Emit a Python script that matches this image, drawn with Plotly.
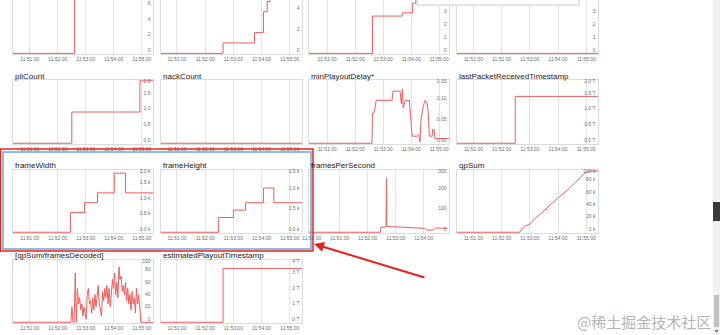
import plotly.graph_objects as go
import pandas as pd

DAY = "2024-01-01 "


def T(s):
    return pd.to_datetime(DAY + s)


# ---------------- tick labels ----------------
x_ticks = ["11:51:00", "11:52:00", "11:53:00", "11:54:00", "11:55:00"]
fps_x_ticks = ["11:50:00", "11:51:00", "11:52:00", "11:53:00", "11:54:00"]

# ---------------- data ----------------
# row 1 (titles scrolled out of view)
r1c1_t = ["11:50:24", "11:52:36", "11:55:24"]
r1c1_v = [0, 8, 8]
r1c2_t = ["11:50:26", "11:52:38", "11:53:45", "11:54:04", "11:54:12", "11:54:18", "11:55:26"]
r1c2_v = [0, 1, 2, 4, 5, 6, 6]
r1c3_t = ["11:50:21", "11:52:37", "11:53:41", "11:54:03", "11:54:10", "11:55:21"]
r1c3_v = [0, 2.9, 3.15, 3.9, 5, 5]
r1c4_t = ["11:50:25", "11:55:25"]
r1c4_v = [0, 0]

# row 2
pli_t = ["11:50:24", "11:52:30", "11:54:56", "11:55:24"]
pli_v = [0, 1, 2, 2]
nack_t = ["11:50:26", "11:55:26"]
nack_v = [0, 0]
mpd_t = ["11:50:21", "11:52:36", "11:52:37", "11:52:40", "11:52:43", "11:52:45", "11:53:19",
         "11:53:21", "11:53:36", "11:53:39", "11:53:41", "11:53:43", "11:53:47", "11:53:56",
         "11:54:02", "11:54:13", "11:54:16", "11:54:19", "11:54:21", "11:54:26", "11:54:30",
         "11:54:34", "11:54:36", "11:54:39", "11:54:45", "11:54:46", "11:54:49", "11:54:51",
         "11:55:21"]
mpd_v = [0, 0, 0.072, 0.072, 0.088, 0.103, 0.103,
         0.125, 0.125, 0.095, 0.13, 0.085, 0.103, 0.103,
         0.017, 0.017, 0.02, 0.003, 0.056, 0.09, 0.103,
         0.095, 0.08, 0.017, 0.017, 0.033, 0.033, 0.011,
         0.011]
lprt_t = ["11:50:25", "11:52:29", "11:55:25"]
lprt_v = [0, 1.5e12, 1.5e12]

# row 3
fw_t = ["11:50:24", "11:52:27", "11:52:57", "11:53:25", "11:54:01", "11:54:25", "11:55:24"]
fw_v = [0, 640, 960, 1280, 1920, 1280, 1280]
fh_t = ["11:50:26", "11:52:28", "11:53:00", "11:53:26", "11:54:04", "11:54:26", "11:55:26"]
fh_v = [0, 360, 540, 720, 1080, 720, 720]
fps_t = ["11:49:54", "11:52:27", "11:52:28", "11:52:39", "11:52:40", "11:52:41", "11:53:10",
         "11:53:40", "11:54:02", "11:54:06", "11:54:20", "11:54:26", "11:54:51"]
fps_v = [0, 0, 25, 25, 263, 28, 25, 22, 19, 11, 11, 21, 19]
qp_t = ["11:50:25", "11:52:38", "11:52:43", "11:52:50", "11:53:01", "11:53:08", "11:53:26",
        "11:53:44", "11:54:01", "11:54:19", "11:54:37", "11:54:55", "11:55:02", "11:55:05",
        "11:55:25"]
qp_v = [0, 0, 4800, 10000, 13800, 20600, 32000, 45000, 56600, 68000, 81500, 94700, 98400,
        99500, 99500]

# row 4
qpfd_start, qpfd_end = "11:52:28", "11:54:58"
qpfd_v = [0, 25, 0, 0, 80, 0, 55, 30, 40, 20, 30, 10, 25, 15, 5, 45, 55, 30, 35, 15, 40, 20,
          45, 25, 45, 60, 30, 20, 10, 50, 35, 55, 40, 60, 30, 55, 25, 45, 70, 55, 80, 45, 65,
          40, 90, 70, 75, 50, 60, 45, 65, 35, 55, 30, 45, 20, 50, 30, 40, 15, 55, 30, 45, 25, 0]
ept_t = ["11:50:26", "11:52:38", "11:55:26"]
ept_v = [0, 3.5e12, 3.5e12]

# y tick labels
r1c1_yt, r1c1_yl = [0, 2, 4, 6], ["0", "2", "4", "6"]
r1c2_yt, r1c2_yl = [0, 2, 4], ["0", "2", "4"]
r1c3_yt, r1c3_yl = [0, 1, 2, 3], ["0", "1", "2", "3"]
pli_yt, pli_yl = [0, 0.5, 1, 1.5, 2], ["0.0", "0.5", "1.0", "1.5", "2.0"]
mpd_yt, mpd_yl = [0, 0.05, 0.1, 0.15], ["0.00", "0.05", "0.10", "0.15"]
lprt_yt, lprt_yl = [0, 0.5e12, 1e12, 1.5e12, 2e12], ["0.0 T", "0.5 T", "1.0 T", "1.5 T", "2.0 T"]
fw_yt, fw_yl = [0, 500, 1000, 1500, 2000], ["0.0 k", "0.5 k", "1.0 k", "1.5 k", "2.0 k"]
fh_yt, fh_yl = [0, 500, 1000, 1500], ["0.0 k", "0.5 k", "1.0 k", "1.5 k"]
fps_yt, fps_yl = [0, 100, 200, 300], ["0", "100", "200", "300"]
qp_yt, qp_yl = [0, 20000, 40000, 60000, 80000, 100000], ["0 k", "20 k", "40 k", "60 k", "80 k", "100 k"]
qpfd_yt, qpfd_yl = [0, 20, 40, 60, 80, 100], ["0", "20", "40", "60", "80", "100"]
ept_yt, ept_yl = [0, 1e12, 2e12, 3e12, 4e12], ["0 T", "1 T", "2 T", "3 T", "4 T"]

# ---------------- layout geometry (pixels) ----------------
W, H = 720, 335
cols = [(13, 153), (161, 302), (309, 449), (457, 598)]
rows = [(0, 54), (80, 144), (170, 233), (260, 323)]
title_y = [None, 76, 165, 255.5]

qpfd_times = [T(qpfd_start) + (T(qpfd_end) - T(qpfd_start)) * i / (len(qpfd_v) - 1)
              for i in range(len(qpfd_v))]

charts = [
    # row, col, title, times, values, shape, xrange, yrange, yticks, ylabels, xticks
    (0, 0, None, [T(s) for s in r1c1_t], r1c1_v, "hv", ("11:50:24", "11:55:24"), (0, 6.9), r1c1_yt, r1c1_yl, x_ticks),
    (0, 1, None, [T(s) for s in r1c2_t], r1c2_v, "hv", ("11:50:26", "11:55:26"), (0, 5.14), r1c2_yt, r1c2_yl, x_ticks),
    (0, 2, None, [T(s) for s in r1c3_t], r1c3_v, "hv", ("11:50:21", "11:55:21"), (0, 4.15), r1c3_yt, r1c3_yl, x_ticks),
    (0, 3, None, [T(s) for s in r1c4_t], r1c4_v, "hv", ("11:50:25", "11:55:25"), (0, 4.15), r1c3_yt, r1c3_yl, x_ticks),
    (1, 0, "pliCount", [T(s) for s in pli_t], pli_v, "hv", ("11:50:24", "11:55:24"), (0, 2), pli_yt, pli_yl, x_ticks),
    (1, 1, "nackCount", [T(s) for s in nack_t], nack_v, "hv", ("11:50:26", "11:55:26"), (0, 1), [], [], x_ticks),
    (1, 2, "minPlayoutDelay*", [T(s) for s in mpd_t], mpd_v, "linear", ("11:50:21", "11:55:21"), (0, 0.15), mpd_yt, mpd_yl, x_ticks),
    (1, 3, "lastPacketReceivedTimestamp", [T(s) for s in lprt_t], lprt_v, "hv", ("11:50:25", "11:55:25"), (0, 2e12), lprt_yt, lprt_yl, x_ticks),
    (2, 0, "frameWidth", [T(s) for s in fw_t], fw_v, "hv", ("11:50:24", "11:55:24"), (0, 2000), fw_yt, fw_yl, x_ticks),
    (2, 1, "frameHeight", [T(s) for s in fh_t], fh_v, "hv", ("11:50:26", "11:55:26"), (0, 1500), fh_yt, fh_yl, x_ticks),
    (2, 2, "framesPerSecond", [T(s) for s in fps_t], fps_v, "linear", ("11:49:54", "11:54:54"), (0, 300), fps_yt, fps_yl, fps_x_ticks),
    (2, 3, "qpSum", [T(s) for s in qp_t], qp_v, "linear", ("11:50:25", "11:55:25"), (0, 100000), qp_yt, qp_yl, x_ticks),
    (3, 0, "[qpSum/framesDecoded]", [T("11:50:24")] + qpfd_times + [T("11:55:24")], [0] + qpfd_v + [0], "linear",
     ("11:50:24", "11:55:24"), (0, 100), qpfd_yt, qpfd_yl, x_ticks),
    (3, 1, "estimatedPlayoutTimestamp", [T(s) for s in ept_t], ept_v, "hv", ("11:50:26", "11:55:26"), (0, 4e12), ept_yt, ept_yl, x_ticks),
]

fig = go.Figure()
annotations = []
LINE_COLOR = "rgb(240,92,92)"
GRID = "#e4e4e4"
BORDER = "#dcdcdc"
TICKFONT = dict(family="Liberation Sans, Arial, sans-serif", size=5, color="#6f6f6f")

for i, (r, c, title, xs, ys, shape, xr, yr, ytv, ytl, xtl) in enumerate(charts, start=1):
    x0p, x1p = cols[c]
    y0p, y1p = rows[r]
    xd = [x0p / W, x1p / W]
    yd = [1 - y1p / H, 1 - y0p / H]
    sfx = "" if i == 1 else str(i)
    span = yr[1] - yr[0]
    plot_h = y1p - y0p
    pad = span * 0.012
    # like the original renderer, the label of the top value is kept inside the plot
    label_pos = [v if v < yr[1] else v - span * 4.5 / plot_h for v in ytv]
    fig.add_trace(go.Scatter(x=xs, y=ys, mode="lines", line=dict(color=LINE_COLOR, width=1, shape=shape),
                             xaxis="x" + sfx, yaxis="y" + sfx, showlegend=False, hoverinfo="skip"))
    fig.layout["xaxis" + sfx] = dict(
        domain=xd, anchor="y" + sfx, type="date", range=[T(xr[0]), T(xr[1])],
        tickvals=[T(s) for s in xtl], ticktext=xtl, tickfont=TICKFONT, ticks="",
        showgrid=True, gridcolor=GRID, gridwidth=1, zeroline=False, automargin=False,
        showline=True, linecolor=BORDER, mirror=(r != 0), fixedrange=True,
    )
    fig.layout["yaxis" + sfx] = dict(
        domain=yd, anchor="x" + sfx, range=[yr[0] - pad, yr[1] + (pad if r != 0 else 0)],
        side="right", ticklabelposition="inside top", ticklabeloverflow="allow",
        tickvals=label_pos, ticktext=ytl, automargin=False,
        tickfont=TICKFONT, ticks="", showgrid=False, zeroline=False,
        showline=True, linecolor=BORDER, mirror=True, fixedrange=True,
    )
    if title:
        annotations.append(dict(text=title, x=x0p / W, y=1 - title_y[r] / H, xref="paper", yref="paper",
                                xanchor="left", yanchor="middle", showarrow=False,
                                font=dict(family="Liberation Sans, Arial, sans-serif", size=8, color="#222")))

# red arrow pointing at the highlighted box
annotations.append(dict(text="", x=314 / W, y=1 - 244 / H, xref="paper", yref="paper",
                        showarrow=True, ax=112, ay=34, arrowhead=2, arrowsize=1, arrowwidth=2,
                        arrowcolor="#e8201c"))
# watermark
annotations.append(dict(text="@稀土掘金技术社区", x=713 / W, y=1 - 321 / H, xref="paper", yref="paper",
                        xanchor="right", yanchor="middle", showarrow=False,
                        font=dict(family="Noto Sans CJK SC", size=15, color="#b4b4b4")))

shapes = [
    # tooltip box at the top
    dict(type="rect", xref="paper", yref="paper", x0=418 / W, x1=580 / W, y0=1 - 6 / H, y1=1.05,
         fillcolor="#eeeeee", line=dict(width=0), layer="above"),
    dict(type="rect", xref="paper", yref="paper", x0=417 / W, x1=579 / W, y0=1 - 5 / H, y1=1.05,
         fillcolor="white", line=dict(color="#cfcfcf", width=1), layer="above"),
    # highlight boxes
    dict(type="rect", xref="paper", yref="paper", x0=0.5 / W, x1=313 / W, y0=1 - 251 / H, y1=1 - 149 / H,
         line=dict(color="#e8201c", width=1.5), layer="above"),
    dict(type="rect", xref="paper", yref="paper", x0=3 / W, x1=311 / W, y0=1 - 249 / H, y1=1 - 152 / H,
         line=dict(color="#6aa6dc", width=1.5), layer="above"),
    # scrollbar
    dict(type="rect", xref="paper", yref="paper", x0=713 / W, x1=1, y0=0, y1=1,
         fillcolor="#f1f1f1", line=dict(width=0), layer="above"),
    dict(type="rect", xref="paper", yref="paper", x0=714 / W, x1=719 / W, y0=1 - 327 / H, y1=1 - 295 / H,
         fillcolor="#c1c1c1", line=dict(width=0), layer="above"),
    dict(type="rect", xref="paper", yref="paper", x0=713 / W, x1=1, y0=1 - 221 / H, y1=1 - 202 / H,
         fillcolor="#3a3a3a", line=dict(width=0), layer="above"),
    dict(type="path", xref="paper", yref="paper",
         path=f"M {714.5 / W} {1 - 330 / H} L {718.5 / W} {1 - 330 / H} L {716.5 / W} {1 - 333 / H} Z",
         fillcolor="#777", line=dict(width=0), layer="above"),
]

fig.update_layout(
    width=W, height=H, margin=dict(l=0, r=0, t=0, b=0, autoexpand=False),
    paper_bgcolor="white", plot_bgcolor="white",
    annotations=annotations, shapes=shapes, showlegend=False,
)

fig.write_html("out.html")
